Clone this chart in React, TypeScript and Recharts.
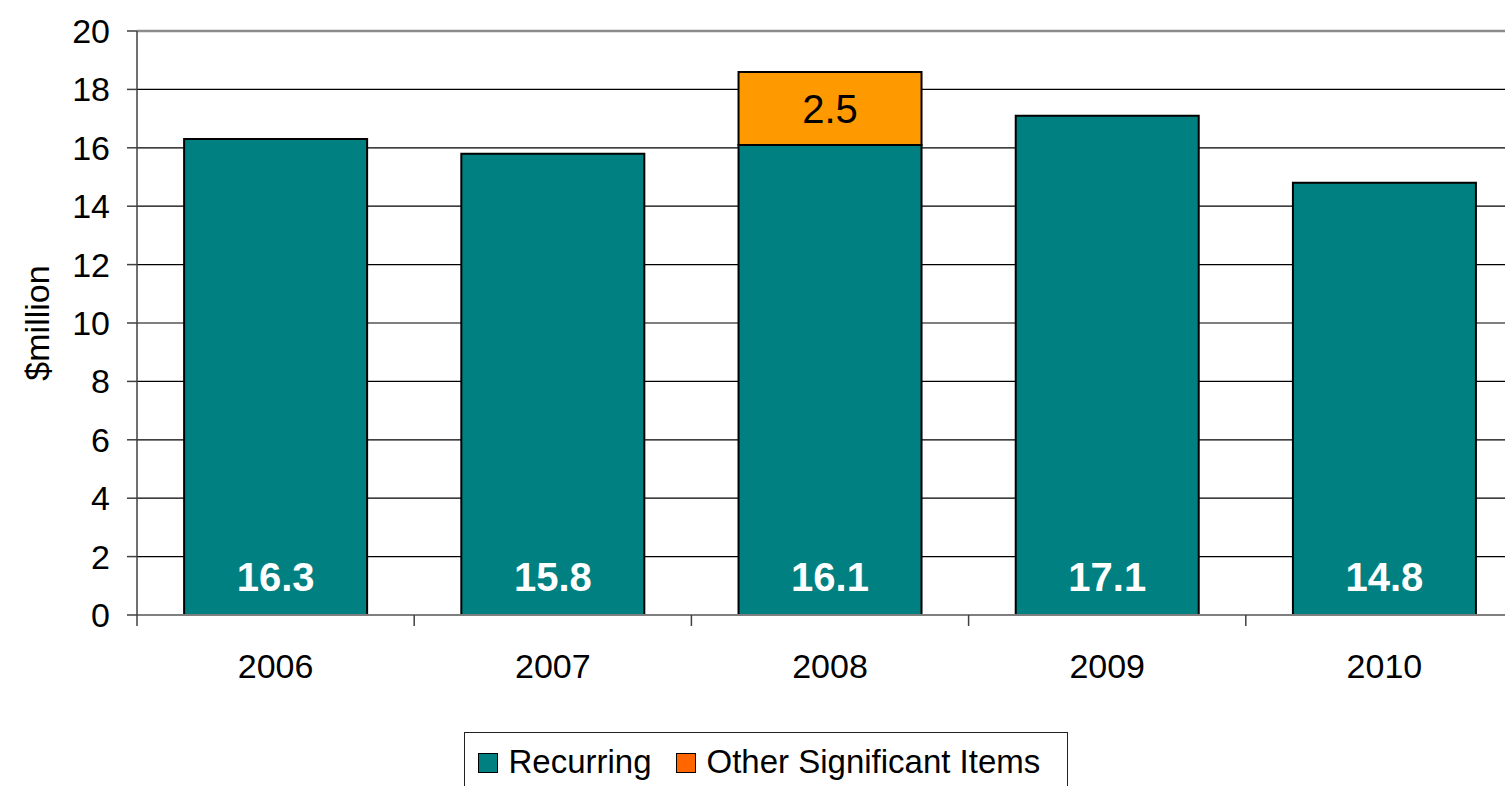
import React from "react";
import { BarChart, Bar, XAxis, YAxis, CartesianGrid, Legend, LabelList, ReferenceLine } from "recharts";

const years = ["2006", "2007", "2008", "2009", "2010"];
const recurring = [16.3, 15.8, 16.1, 17.1, 14.8];
const otherItems = [null, null, 2.5, null, null];
const yTicks = [0, 2, 4, 6, 8, 10, 12, 14, 16, 18, 20];

const data = years.map((year, i) => ({
  year,
  recurring: recurring[i],
  other: otherItems[i],
}));

const VIEW_W = 1505;
const W = 1523; // plot runs past the right edge, as in the original
const H = 786;
const PLOT_LEFT = 137;
const BAND = (W - PLOT_LEFT) / years.length;
const FONT = "'Liberation Sans', Arial, sans-serif";

const XTick = (props: any) => {
  const { x, y, payload } = props;
  const bx = x - BAND / 2;
  return (
    <g>
      <line x1={bx} y1={y - 8} x2={bx} y2={y + 3} stroke="#404040" strokeWidth={1.5} />
      <text x={x} y={y + 43} textAnchor="middle" dominantBaseline="central" fontSize={34} fill="#000" fontFamily={FONT}>
        {payload.value}
      </text>
    </g>
  );
};

const RecurringLabel = (props: any) => {
  const { x, y, width, height, value } = props;
  if (value == null) return null;
  return (
    <text x={x + width / 2} y={y + height - 38} textAnchor="middle" dominantBaseline="central" fontSize={40} fontWeight="bold" fill="#fff" fontFamily={FONT}>
      {value}
    </text>
  );
};

const OtherLabel = (props: any) => {
  const { x, y, width, height, value } = props;
  if (value == null || !value) return null;
  return (
    <text x={x + width / 2} y={y + height / 2 + 1} textAnchor="middle" dominantBaseline="central" fontSize={40} fill="#000" fontFamily={FONT}>
      {value}
    </text>
  );
};

const swatch = (color: string, left: number) => (
  <span
    style={{
      position: "absolute",
      left,
      top: 19.5,
      width: 20,
      height: 20,
      boxSizing: "border-box",
      background: color,
      border: "1.5px solid #000",
    }}
  />
);

const label = (text: string, left: number) => (
  <span style={{ position: "absolute", left, top: 11.5, lineHeight: "33px", fontSize: 33, whiteSpace: "nowrap" }}>
    {text}
  </span>
);

const LegendBox = () => (
  <div
    style={{
      position: "relative",
      boxSizing: "border-box",
      width: 604,
      height: 60,
      border: "1.5px solid #222",
      borderBottom: "none",
      background: "#fff",
      fontFamily: FONT,
      color: "#000",
    }}
  >
    {swatch("#008080", 12.5)}
    {label("Recurring", 43.5)}
    {swatch("#FF6600", 210.5)}
    {label("Other Significant Items", 241.5)}
  </div>
);

export default function App() {
  return (
    <div style={{ position: "absolute", left: 0, top: 0, width: VIEW_W, height: H, overflow: "hidden", background: "#fff" }}>
      <BarChart width={W} height={H} data={data} margin={{ top: 31, right: 0, left: 0, bottom: 0 }} barCategoryGap="17%">
        <CartesianGrid vertical={false} stroke="#000" strokeWidth={1.2} />
        <XAxis
          dataKey="year"
          height={117}
          tickLine={false}
          axisLine={{ stroke: "#7f7f7f", strokeWidth: 2 }}
          tick={<XTick />}
          interval={0}
        />
        <YAxis
          width={PLOT_LEFT}
          domain={[0, 20]}
          ticks={yTicks}
          interval={0}
          tickSize={10}
          tickMargin={17}
          tickLine={{ stroke: "#404040", strokeWidth: 1.5 }}
          axisLine={{ stroke: "#404040", strokeWidth: 1.5 }}
          tick={{ fontSize: 34, fill: "#000", fontFamily: FONT }}
          label={{
            content: (p: any) => {
              const vb = p.viewBox;
              const cy = vb.y + vb.height / 2;
              return (
                <text x={37} y={cy} transform={`rotate(-90, 37, ${cy})`} textAnchor="middle" dominantBaseline="central" fontSize={34} fill="#000" fontFamily={FONT}>
                  $million
                </text>
              );
            },
          }}
        />
        <ReferenceLine y={20} stroke="#8c8c8c" strokeWidth={2.5} />
        <Legend
          verticalAlign="bottom"
          height={54}
          content={<LegendBox />}
          wrapperStyle={{ left: 464, width: 604, height: 54 }}
        />
        <Bar dataKey="recurring" name="Recurring" stackId="a" fill="#008080" stroke="#000" strokeWidth={2} isAnimationActive={false}>
          <LabelList dataKey="recurring" content={<RecurringLabel />} />
        </Bar>
        <Bar dataKey="other" name="Other Significant Items" stackId="a" fill="#FF9900" stroke="#000" strokeWidth={2} isAnimationActive={false}>
          <LabelList dataKey="other" content={<OtherLabel />} />
        </Bar>
      </BarChart>
    </div>
  );
}
